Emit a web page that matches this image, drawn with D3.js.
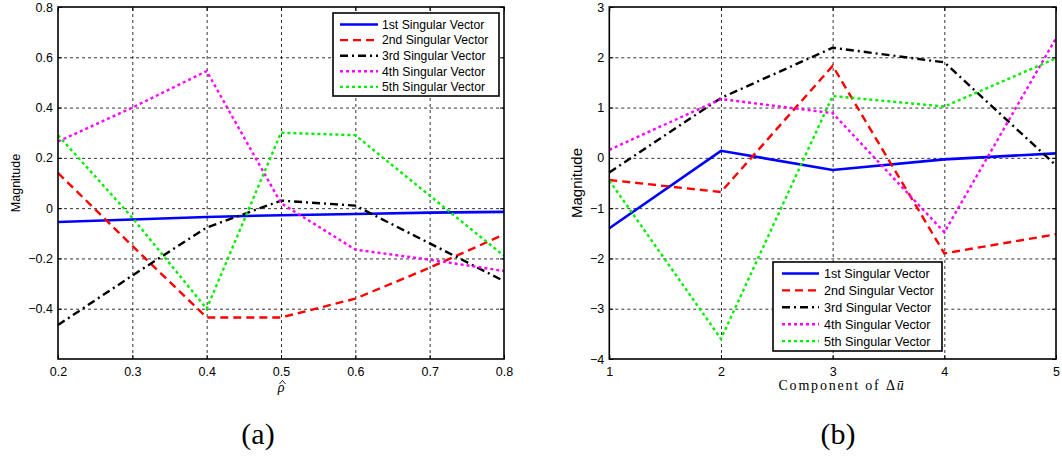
<!DOCTYPE html>
<html lang="en">
<head>
<meta charset="utf-8">
<title>Singular vectors</title>
<script src="https://d3js.org/d3.v7.min.js"></script>
<style>
  body { margin: 0; background: #fff; }
  svg { display: block; }
  .tick text { font-family: "Liberation Sans", Arial, sans-serif; fill: #000; }
</style>
</head>
<body>
<script>
// ---- data ----
var seriesNames = ["1st Singular Vector", "2nd Singular Vector", "3rd Singular Vector",
                   "4th Singular Vector", "5th Singular Vector"];
var seriesColors = ["#0000ff", "#ff0000", "#000000", "#ff00ff", "#00ee00"];
var seriesDash = [null, "8,5", "8,4,2,4", "3,3", "3,3"];

// panel (a): x = rho hat
var rhoVals = [0.2, 0.3, 0.4, 0.5, 0.6, 0.7, 0.8];
var aSv1 = [-0.055, -0.045, -0.035, -0.028, -0.023, -0.018, -0.015];
var aSv2 = [0.14, -0.15, -0.435, -0.435, -0.36, -0.237, -0.105];
var aSv3 = [-0.465, -0.268, -0.077, 0.03, 0.01, -0.14, -0.29];
var aSv4 = [0.265, 0.4, 0.545, 0.02, -0.165, -0.205, -0.25];
var aSv5 = [0.29, -0.038, -0.4, 0.3, 0.29, 0.05, -0.19];
var aYTicks = [0.8, 0.6, 0.4, 0.2, 0, -0.2, -0.4];
var aXTicks = [0.2, 0.3, 0.4, 0.5, 0.6, 0.7, 0.8];

// panel (b): x = component of delta u
var compVals = [1, 2, 3, 4, 5];
var bSv1 = [-1.4, 0.14, -0.24, -0.03, 0.09];
var bSv2 = [-0.44, -0.68, 1.83, -1.9, -1.52];
var bSv3 = [-0.29, 1.19, 2.19, 1.9, -0.15];
var bSv4 = [0.16, 1.17, 0.89, -1.48, 2.38];
var bSv5 = [-0.45, -3.6, 1.23, 1.02, 1.98];
var bYTicks = [3, 2, 1, 0, -1, -2, -3, -4];
var bXTicks = [1, 2, 3, 4, 5];

var W = 1062, H = 461;
var svg = d3.select("body").append("svg").attr("width", W).attr("height", H);

function fmtA(v) { return v === 0 ? "0" : d3.format(".1f")(v); }
function fmtB(v) { return d3.format("d")(v); }

function drawPanel(p) {
  var x = d3.scaleLinear().domain(p.xDomain).range([p.left, p.right]);
  var y = d3.scaleLinear().domain(p.yDomain).range([p.bottom, p.top]);
  var g = svg.append("g");
  var w = p.right - p.left, h = p.bottom - p.top;

  // grid
  var gx = g.append("g").attr("transform", "translate(0," + p.bottom + ")")
    .call(d3.axisBottom(x).tickValues(p.xTicks.slice(1, -1)).tickSize(-h).tickFormat(""));
  var gy = g.append("g").attr("transform", "translate(" + p.left + ",0)")
    .call(d3.axisLeft(y).tickValues(p.gridY).tickSize(-w).tickFormat(""));
  [gx, gy].forEach(function (a) {
    a.select(".domain").remove();
    a.selectAll("line").attr("stroke", "#000").attr("stroke-width", 0.8).attr("stroke-dasharray", "3,3");
  });

  // lines
  var line = d3.line().x(function (d) { return x(d[0]); }).y(function (d) { return y(d[1]); });
  p.series.forEach(function (s, i) {
    var pts = p.xVals.map(function (xv, j) { return [xv, s[j]]; });
    g.append("path").datum(pts)
      .attr("d", line)
      .attr("fill", "none")
      .attr("stroke", seriesColors[i])
      .attr("stroke-width", i === 0 ? 2.6 : 2.4)
      .attr("stroke-dasharray", seriesDash[i]);
  });

  // axes
  var ax = g.append("g").attr("transform", "translate(0," + p.bottom + ")")
    .call(d3.axisBottom(x).tickValues(p.xTicks).tickSizeInner(-4).tickSizeOuter(0).tickPadding(8).tickFormat(p.fmtX));
  var ay = g.append("g").attr("transform", "translate(" + p.left + ",0)")
    .call(d3.axisLeft(y).tickValues(p.yTicks).tickSizeInner(-4).tickSizeOuter(0).tickPadding(5).tickFormat(p.fmtY));
  var at = g.append("g").attr("transform", "translate(0," + p.top + ")")
    .call(d3.axisTop(x).tickValues(p.xTicks).tickSizeInner(-4).tickSizeOuter(0).tickFormat(""));
  var ar = g.append("g").attr("transform", "translate(" + p.right + ",0)")
    .call(d3.axisRight(y).tickValues(p.yTicks).tickSizeInner(-4).tickSizeOuter(0).tickFormat(""));
  [ax, ay, at, ar].forEach(function (a) {
    a.select(".domain").remove();
    a.selectAll("line").attr("stroke", "#000").attr("stroke-width", 1);
    a.selectAll("text").attr("font-size", 12.5);
  });

  g.append("rect").attr("x", p.left).attr("y", p.top).attr("width", w).attr("height", h)
    .attr("fill", "none").attr("stroke", "#000").attr("stroke-width", 1.6);

  // y label
  g.append("text")
    .attr("transform", "translate(" + p.yLabelX + "," + p.yLabelY + ") rotate(-90)")
    .attr("text-anchor", "middle")
    .attr("font-family", "Liberation Sans, Arial, sans-serif")
    .attr("font-size", p.yLabelSize)
    .text("Magnitude");

  // legend
  var L = p.legend;
  var lg = g.append("g");
  lg.append("rect").attr("x", L.x).attr("y", L.y).attr("width", L.w).attr("height", L.h)
    .attr("fill", "#fff").attr("stroke", "#000").attr("stroke-width", 1.6);
  seriesNames.forEach(function (name, i) {
    var ry = L.row0 + i * L.step;
    lg.append("line").attr("x1", L.lx1).attr("x2", L.lx2).attr("y1", ry).attr("y2", ry)
      .attr("stroke", seriesColors[i]).attr("stroke-width", 2.4)
      .attr("stroke-dasharray", seriesDash[i]);
    lg.append("text").attr("x", L.tx).attr("y", ry).attr("dy", "0.36em")
      .attr("font-family", "Liberation Sans, Arial, sans-serif")
      .attr("font-size", L.fs)
      .text(name);
  });
  return g;
}

var gA = drawPanel({
  left: 58, right: 504, top: 7, bottom: 359,
  xDomain: [0.2, 0.8], yDomain: [-0.6, 0.8],
  xVals: rhoVals, series: [aSv1, aSv2, aSv3, aSv4, aSv5],
  xTicks: aXTicks, yTicks: aYTicks, gridY: [0.6, 0.4, 0.2, 0, -0.2, -0.4],
  fmtX: d3.format(".1f"), fmtY: fmtA,
  yLabelX: 20, yLabelY: 183, yLabelSize: 12.5,
  legend: { x: 333, y: 13, w: 166, h: 83, row0: 24.5, step: 15.6, lx1: 340, lx2: 378, tx: 382, fs: 12.2 }
});

var gB = drawPanel({
  left: 609.3, right: 1056, top: 7, bottom: 359,
  xDomain: [1, 5], yDomain: [-4, 3],
  xVals: compVals, series: [bSv1, bSv2, bSv3, bSv4, bSv5],
  xTicks: bXTicks, yTicks: bYTicks, gridY: [2, 1, 0, -1, -2, -3],
  fmtX: fmtB, fmtY: fmtB,
  yLabelX: 582, yLabelY: 183, yLabelSize: 15,
  legend: { x: 773, y: 262, w: 169, h: 89, row0: 273.5, step: 16.9, lx1: 782, lx2: 819, tx: 824, fs: 12.6 }
});

// x labels (serif, LaTeX-like)
svg.append("text").attr("x", 281).attr("y", 392)
  .attr("text-anchor", "middle")
  .attr("font-family", "Liberation Serif, serif").attr("font-style", "italic").attr("font-size", 14)
  .text("\u03C1");
// hat over rho
svg.append("path").attr("d", "M279.5,384 L282.5,380.5 L285.5,384")
  .attr("fill", "none").attr("stroke", "#000").attr("stroke-width", 0.9);

var cl = svg.append("text").attr("x", 842).attr("y", 390)
  .attr("text-anchor", "middle")
  .attr("font-family", "Liberation Serif, serif").attr("font-size", 14)
  .attr("letter-spacing", "1.8px");
cl.append("tspan").text("Component of \u0394");
cl.append("tspan").attr("font-style", "italic").text("\u016B");

// panel captions
svg.append("text").attr("x", 258).attr("y", 444).attr("text-anchor", "middle")
  .attr("font-family", "Liberation Serif, serif").attr("font-size", 30).text("(a)");
svg.append("text").attr("x", 838).attr("y", 444).attr("text-anchor", "middle")
  .attr("font-family", "Liberation Serif, serif").attr("font-size", 30).text("(b)");
</script>
</body>
</html>
